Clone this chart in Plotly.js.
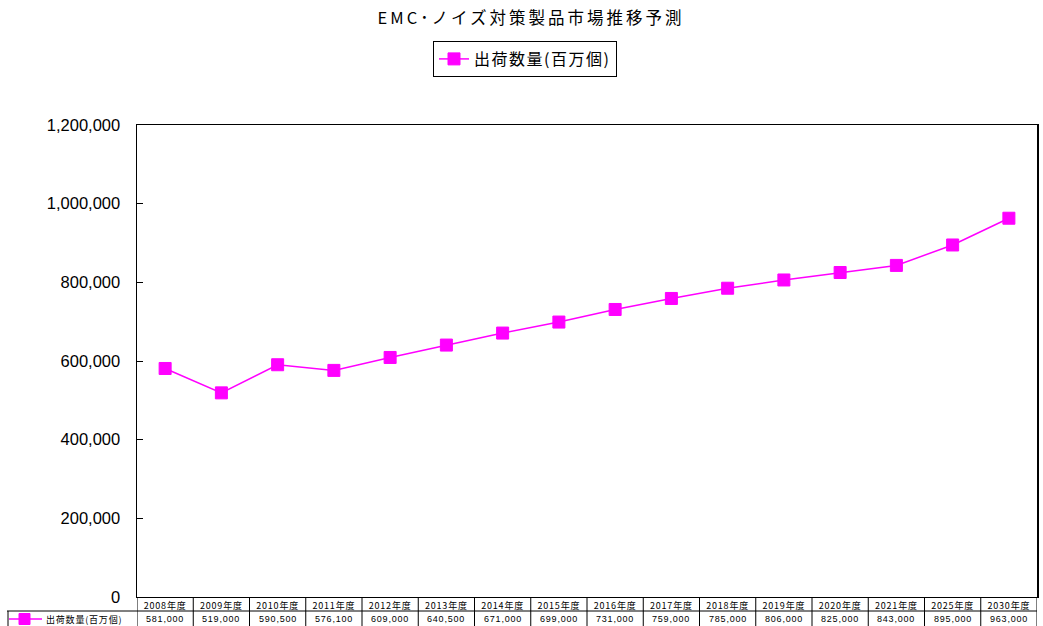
<!DOCTYPE html>
<html><head><meta charset="utf-8">
<script src="https://cdn.plot.ly/plotly-3.0.1.min.js"></script>
<style>
html,body{margin:0;padding:0;background:#fff;}
#chart{width:1043px;height:626px;}
.gtitle{letter-spacing:3px;}
.legendtext{letter-spacing:1.5px;}
.xtick text{letter-spacing:0.8px;}
.annotation-text{letter-spacing:0.8px;}
</style>
</head><body><div id="chart"></div>
<script>
const years = ["2008年度","2009年度","2010年度","2011年度","2012年度","2013年度","2014年度","2015年度","2016年度","2017年度","2018年度","2019年度","2020年度","2021年度","2025年度","2030年度"];
const shipments = [581000,519000,590500,576100,609000,640500,671000,699000,731000,759000,785000,806000,825000,843000,895000,963000];
const seriesName = "出荷数量(百万個)";
const chartTitle = "EMC･ノイズ対策製品市場推移予測";

const FONT = "Liberation Sans, Arial, Noto Sans CJK JP, sans-serif";
const JFONT = "Noto Sans CJK JP, Liberation Sans, sans-serif";
const MAG = "#FF00FF";
const W = 1043, H = 626;
const mL = 137, mR = 6, mT = 125, mB = 29;
const plotH = H - mT - mB;
const pw = W - mL - mR;
const px = v => -v / plotH; // pixels below plot bottom -> paper y

const trace = {
  type: "scatter", mode: "lines+markers",
  x: years, y: shipments, name: seriesName,
  line: {color: MAG, width: 1.5},
  marker: {symbol: "square", size: 12, color: MAG, line: {color: MAG, width: 1}},
  hoverinfo: "x+y"
};

const shapes = [];
const annotations = [];
for (let k = 0; k <= years.length; k++) {
  shapes.push({type: "line", xref: "x", yref: "paper", x0: k - 0.5, x1: k - 0.5, y0: 0, y1: px(mB + 2), line: {color: "#000", width: 1}});
}
shapes.push({type: "line", xref: "paper", yref: "paper", x0: (7 - mL) / pw, x1: 1, y0: px(14), y1: px(14), line: {color: "#000", width: 1}});
shapes.push({type: "line", xref: "paper", yref: "paper", x0: (8 - mL) / pw, x1: (8 - mL) / pw, y0: px(14), y1: px(mB + 2), line: {color: "#000", width: 1}});
shapes.push({type: "line", xref: "paper", yref: "paper", x0: (9 - mL) / pw, x1: (42 - mL) / pw, y0: px(22), y1: px(22), line: {color: MAG, width: 1.5}});
shapes.push({type: "rect", xref: "paper", yref: "paper", x0: (19 - mL) / pw, x1: (30 - mL) / pw, y0: px(16.5), y1: px(27.5), fillcolor: MAG, line: {color: MAG, width: 1}});
annotations.push({xref: "paper", yref: "paper", x: (44 - mL) / pw, y: px(22), xanchor: "left", yanchor: "middle", showarrow: false, text: seriesName, font: {family: JFONT, size: 9, color: "#000"}});
shipments.forEach((v, i) => {
  annotations.push({xref: "x", yref: "paper", x: years[i], y: px(22), xanchor: "center", yanchor: "middle", showarrow: false,
    text: v.toLocaleString("en-US"), font: {family: FONT, size: 9, color: "#000"}});
});

const layout = {
  width: W, height: H,
  margin: {l: mL, r: mR, t: mT, b: mB, pad: 0},
  paper_bgcolor: "#fff", plot_bgcolor: "#fff",
  title: {text: chartTitle, x: 531 / W, xref: "container", xanchor: "center", y: 1 - 18 / H, yref: "container", yanchor: "middle",
    font: {family: JFONT, size: 16.5, color: "#000"}},
  showlegend: true,
  legend: {orientation: "h", xref: "container", yref: "container", x: 525 / W, xanchor: "center", y: 1 - 41 / H, yanchor: "top",
    bordercolor: "#000", borderwidth: 1, bgcolor: "#fff", font: {family: JFONT, size: 16, color: "#000"},
    itemwidth: 30},
  xaxis: {type: "category", range: [-0.5, years.length - 0.5], showgrid: false, zeroline: false,
    showline: true, linecolor: "#000", linewidth: 1, mirror: true, ticks: "", ticklen: 0,
    tickfont: {family: JFONT, size: 9, color: "#000"}, ticklabelstandoff: 0, fixedrange: true},
  yaxis: {range: [0, 1200000], dtick: 200000, tick0: 0, tickformat: ",d", showgrid: false, zeroline: false,
    showline: true, linecolor: "#000", linewidth: 1.5, mirror: true, ticks: "inside", ticklen: 6, tickcolor: "#000",
    tickfont: {family: FONT, size: 16.5, color: "#000"}, ticklabelstandoff: 12, fixedrange: true},
  shapes: shapes, annotations: annotations
};

Plotly.newPlot("chart", [trace], layout, {displayModeBar: false, staticPlot: true});
</script></body></html>
